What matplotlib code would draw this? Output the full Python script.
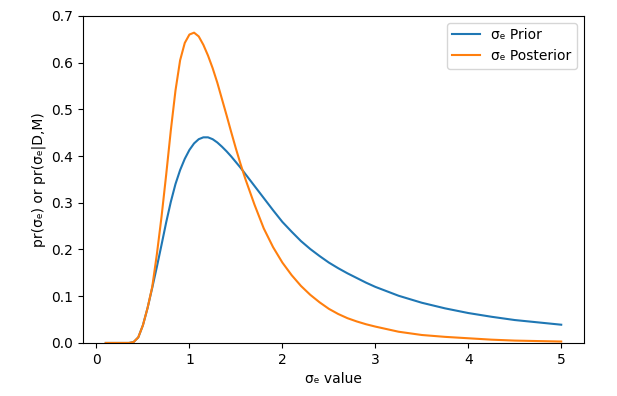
import matplotlib
matplotlib.use('Agg')
import matplotlib.pyplot as plt

# 读图得到的数值
sigma = [0.1, 0.2, 0.3, 0.35, 0.4, 0.45, 0.5, 0.55, 0.6, 0.65, 0.7, 0.75,
         0.8, 0.85, 0.9, 0.95, 1.0, 1.05, 1.1, 1.15, 1.2, 1.25, 1.3, 1.35,
         1.4, 1.45, 1.5, 1.55, 1.6, 1.7, 1.8, 1.9, 2.0, 2.1, 2.2, 2.3, 2.4,
         2.5, 2.6, 2.7, 2.8, 2.9, 3.0, 3.25, 3.5, 3.75, 4.0, 4.25, 4.5,
         4.75, 5.0]

prior = [0.0, 0.0, 0.0, 0.0, 0.002, 0.012, 0.038, 0.075, 0.118, 0.163, 0.21,
         0.258, 0.302, 0.34, 0.37, 0.394, 0.413, 0.427, 0.436, 0.44, 0.44,
         0.436, 0.429, 0.42, 0.41, 0.399, 0.387, 0.375, 0.362, 0.336, 0.31,
         0.284, 0.259, 0.238, 0.218, 0.201, 0.186, 0.172, 0.16, 0.149, 0.139,
         0.129, 0.12, 0.101, 0.086, 0.074, 0.064, 0.056, 0.049, 0.044, 0.039]

posterior = [0.0, 0.0, 0.0, 0.0, 0.002, 0.012, 0.038, 0.075, 0.12, 0.19, 0.27,
             0.36, 0.455, 0.54, 0.605, 0.642, 0.66, 0.664, 0.656, 0.638,
             0.615, 0.588, 0.557, 0.522, 0.487, 0.451, 0.416, 0.383, 0.352,
             0.296, 0.245, 0.205, 0.172, 0.145, 0.122, 0.103, 0.087, 0.073,
             0.062, 0.053, 0.046, 0.04, 0.035, 0.024, 0.017, 0.013, 0.01,
             0.007, 0.005, 0.004, 0.003]

fig = plt.figure(figsize=(6.17, 3.96), dpi=100)
ax = fig.add_axes([0.1345, 0.134, 0.812, 0.826])

ax.plot(sigma, prior, label='σₑ Prior', lw=1.5)
ax.plot(sigma, posterior, label='σₑ Posterior', lw=1.5)

ax.set_ylim(0, 0.7)
ax.set_xlabel('σₑ value')
ax.set_ylabel('pr(σₑ) or pr(σₑ|D,M)')
ax.legend(loc='upper right')

fig.savefig('out.png', dpi=100)
